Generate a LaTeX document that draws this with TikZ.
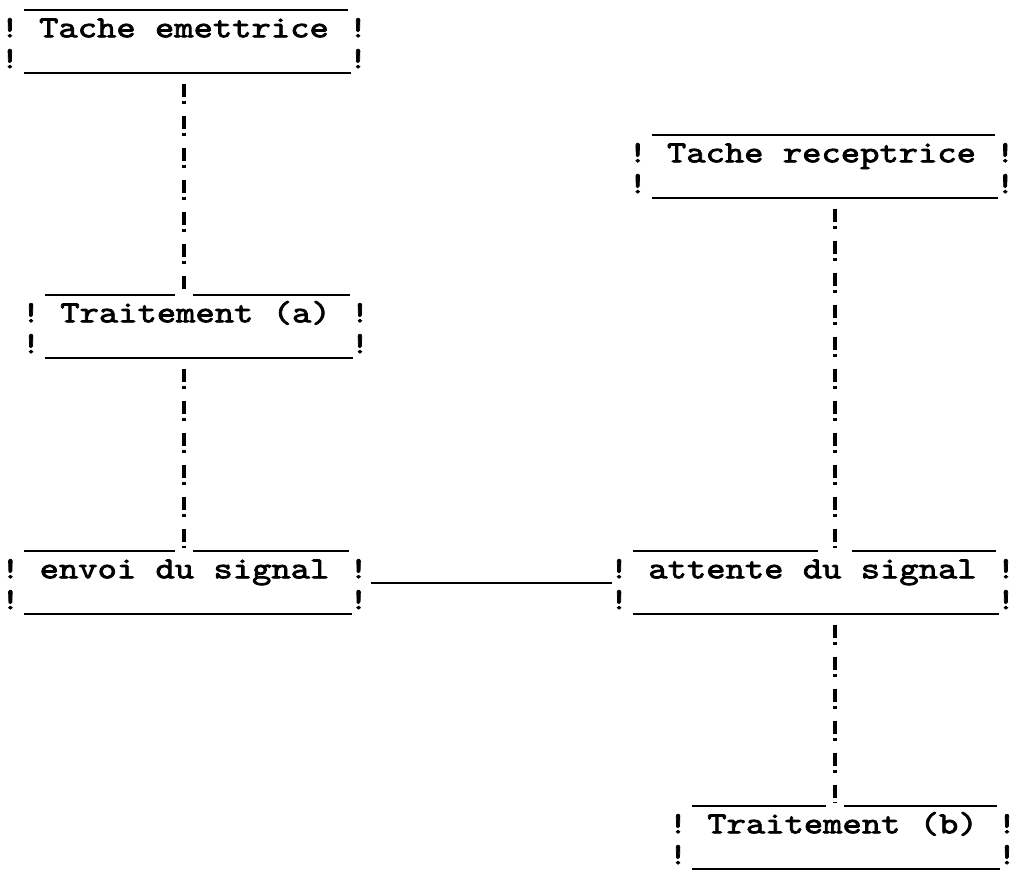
\documentclass[tikz,border=0pt]{standalone}
\usepackage{fontspec}
\newfontfamily\machine{lmmono10-regular.otf}[FakeStretch=1.2, FakeBold=2.4]
\usetikzlibrary{positioning}

\tikzset{
  frappe/.style={font=\fontsize{21.8}{27}\selectfont\machine},
  boite/.style={frappe, anchor=north, inner xsep=20.6pt, inner ysep=0pt,
    text height=19.2pt, text depth=24.9pt},
  excl/.style={frappe, inner sep=0pt, anchor=base},
  trait/.style={line width=1.4pt},
  liaison/.style={line width=2.6pt, shorten >=2pt,
    dash pattern=on 9.25pt off 2.85pt on 2.13pt off 8.54pt, dash phase=14.9pt},
  trou/.style={fill=white, inner sep=0pt, minimum width=12.8pt, minimum height=3.5pt}
}

% cadre a la machine a ecrire : traits et points d'exclamation
\newcommand{\cadre}[1]{%
  \draw[trait] ([xshift=10pt]#1.north west) -- ([xshift=-7pt]#1.north east);
  \draw[trait] ([xshift=10pt]#1.south west) -- ([xshift=-5pt]#1.south east);
  \node[excl] (#1-g1) at (#1.base west) {!};
  \node[excl] (#1-d1) at (#1.base east) {!};
  \node[excl] (#1-g2) at ([yshift=-22pt]#1.base west) {!};
  \node[excl] (#1-d2) at ([yshift=-22pt]#1.base east) {!};
}

\begin{document}
\begin{tikzpicture}[x=0.025cm, y=-0.025cm]
  \useasboundingbox (0,0) rectangle (1016,869);

  % tache emettrice
  \node[boite] (emet) at (184,10) {Tache emettrice};
  \node[boite] (trta) at (195.5,295) {Traitement (a)};
  \node[boite] (envoi) at (184.5,551) {envoi du signal};
  % tache receptrice
  \node[boite] (recep) at (821.5,135) {Tache receptrice};
  \node[boite] (attente) at (812.5,551) {attente du signal};
  \node[boite] (trtb) at (842.5,806) {Traitement (b)};

  \cadre{emet}
  \cadre{trta}
  \cadre{envoi}
  \cadre{recep}
  \cadre{attente}
  \cadre{trtb}

  \coordinate (axeG) at (184,0);
  \coordinate (axeD) at (835,0);

  \draw[liaison] (emet.south -| axeG) -- (trta.north -| axeG) node[trou]{};
  \draw[liaison] (trta.south -| axeG) -- (envoi.north -| axeG) node[trou]{};
  \draw[liaison] (recep.south -| axeD) -- (attente.north -| axeD) node[trou, minimum width=24pt]{};
  \draw[liaison] (attente.south -| axeD) -- (trtb.north -| axeD) node[trou]{};

  \draw[trait] ([xshift=8.5pt,yshift=-3.6pt]envoi.base east)
    -- ([xshift=-5pt,yshift=-3.6pt]attente.base west);
\end{tikzpicture}
\end{document}
